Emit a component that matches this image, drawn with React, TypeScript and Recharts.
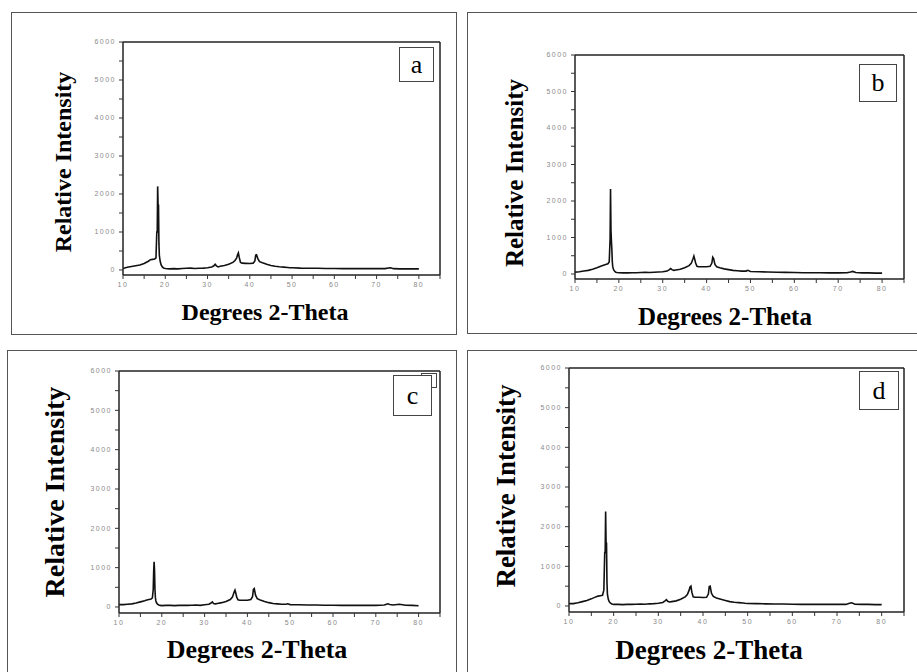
import React from 'react';
import { LineChart, Line, XAxis, YAxis } from 'recharts';

// 2-theta positions shared by all four patterns (finer around the peaks)
const TWO_THETA = [
  10, 11, 12, 13, 14, 15, 16, 16.5, 17, 17.5, 17.8, 18.0, 18.1, 18.2, 18.3, 18.4, 18.5, 18.6, 18.8, 19.0,
  19.3, 19.6, 20, 21, 22, 23, 24, 25, 26, 27, 28, 29, 30, 31, 31.5, 31.8, 32.1, 32.5, 33, 34,
  35, 36, 36.5, 36.9, 37.1, 37.3, 37.5, 37.8, 38.2, 39, 40, 40.8, 41.2, 41.4, 41.6, 41.9, 42.3, 43, 44, 45,
  46, 47, 48, 49, 49.4, 50, 52, 54, 56, 58, 60, 62, 64, 66, 68, 70, 72, 72.8, 73.3, 74,
  75.5, 77, 78.5, 80,
];

const INTENSITY_A = [
  40, 70, 90, 110, 130, 170, 230, 270, 280, 290, 320, 1000, 1000, 2200, 1700, 1700, 700, 380, 230, 140,
  80, 50, 40, 30, 35, 30, 40, 45, 50, 40, 45, 50, 60, 80, 110, 150, 110, 80, 100, 120,
  150, 200, 250, 320, 400, 450, 330, 200, 180, 175, 170, 180, 240, 390, 400, 300, 220, 190, 150, 120,
  100, 85, 75, 65, 60, 60, 50, 45, 45, 40, 40, 35, 35, 35, 35, 35, 35, 50, 60, 35,
  30, 30, 30, 30,
];

const INTENSITY_B = [
  50, 60, 80, 100, 130, 170, 220, 240, 260, 280, 330, 950, 2330, 1200, 900, 680, 350, 200, 120, 80,
  50, 40, 35, 30, 30, 35, 35, 40, 45, 40, 50, 55, 60, 80, 120, 150, 120, 100, 110, 130,
  170, 230, 290, 420, 490, 400, 300, 210, 200, 200, 200, 210, 300, 460, 420, 260, 200, 170, 140, 120,
  100, 90, 80, 80, 100, 70, 60, 55, 50, 45, 40, 35, 35, 35, 30, 30, 35, 55, 70, 40,
  30, 30, 25, 25,
];

const INTENSITY_C = [
  60, 60, 70, 80, 100, 130, 160, 180, 190, 200, 230, 450, 900, 1150, 940, 450, 250, 160, 100, 70,
  50, 40, 35, 40, 40, 35, 40, 45, 40, 45, 50, 40, 55, 70, 100, 130, 90, 80, 90, 110,
  140, 190, 250, 380, 430, 350, 250, 180, 170, 170, 170, 190, 260, 450, 470, 300, 210, 180, 140, 110,
  90, 80, 70, 70, 80, 60, 55, 50, 50, 45, 45, 40, 40, 40, 40, 40, 50, 80, 65, 50,
  70, 45, 40, 30,
];

const INTENSITY_D = [
  60, 60, 80, 110, 140, 180, 230, 250, 260, 270, 400, 1350, 1350, 2380, 1580, 1580, 600, 300, 170, 110,
  70, 50, 40, 40, 35, 40, 40, 45, 50, 45, 55, 60, 70, 90, 130, 160, 120, 100, 110, 130,
  170, 230, 290, 400, 480, 500, 350, 230, 220, 220, 215, 220, 300, 490, 500, 320, 240, 200, 170, 140,
  110, 95, 85, 75, 70, 65, 60, 55, 50, 50, 45, 40, 40, 40, 40, 40, 40, 70, 80, 45,
  40, 40, 35, 35,
];

const X_TICKS = [10, 15, 20, 25, 30, 35, 40, 45, 50, 55, 60, 65, 70, 75, 80, 85];
const Y_TICKS = [0, 500, 1000, 1500, 2000, 2500, 3000, 3500, 4000, 4500, 5000, 5500, 6000];

const Y_LABEL = 'Relative Intensity';
const X_LABEL = 'Degrees 2-Theta';
const SERIF = '"Liberation Serif", "Times New Roman", serif';
const TICK_STYLE = { fill: '#8a8a8a', fontSize: 7, fontFamily: '"Liberation Sans", Arial, sans-serif', letterSpacing: 1.5 };
const AXIS_LINE = { stroke: '#222', strokeWidth: 1.5 };
const TICK_LINE = { stroke: '#333' };

const PANELS = [
  {
    tag: 'a', values: INTENSITY_A, yMin: -132,
    frame: { l: 11, t: 12, w: 446, h: 323 },
    plot: { l: 123, t: 42, r: 439, b: 275 },
    box: { l: 399, t: 47, w: 35, h: 35 },
    yl: { x: 63, y: 162, fs: 24 }, xl: { x: 265, y: 312, fs: 24 },
  },
  {
    tag: 'b', values: INTENSITY_B, yMin: -137,
    frame: { l: 467, t: 12, w: 470, h: 322 },
    plot: { l: 575, t: 55, r: 903, b: 279 },
    box: { l: 859, t: 64, w: 38, h: 38 },
    yl: { x: 514, y: 173, fs: 25 }, xl: { x: 725, y: 316, fs: 25 },
  },
  {
    tag: 'c', values: INTENSITY_C, yMin: -153,
    frame: { l: 7, t: 350, w: 450, h: 340 },
    plot: { l: 119, t: 371, r: 439, b: 613 },
    box: { l: 393, t: 375, w: 39, h: 41 },
    extraBox: { l: 421, t: 373, w: 16, h: 15 },
    yl: { x: 55, y: 492, fs: 28 }, xl: { x: 257, y: 650, fs: 26 },
  },
  {
    tag: 'd', values: INTENSITY_D, yMin: -151,
    frame: { l: 467, t: 350, w: 470, h: 340 },
    plot: { l: 569, t: 368, r: 903, b: 612 },
    box: { l: 859, t: 371, w: 40, h: 39 },
    yl: { x: 506, y: 486, fs: 27 }, xl: { x: 709, y: 650, fs: 27 },
  },
];

const fmtX = (v: number) => (v % 10 === 0 && v <= 80 ? String(v) : '');
const fmtY = (v: number) => (v % 1000 === 0 ? String(v) : '');

function Panel({ p }: { p: any }) {
  const data = TWO_THETA.map((x, i) => ({ x, y: p.values[i] }));
  const padL = 40, padT = 8, padR = 8, padB = 20;
  const plotW = p.plot.r - p.plot.l;
  const plotH = p.plot.b - p.plot.t;
  const xDomain: [number, number] = [10, 85];
  const yDomain: [number, number] = [p.yMin, 6000];

  return (
    <>
      <div style={{
        position: 'absolute', left: p.frame.l, top: p.frame.t, width: p.frame.w, height: p.frame.h,
        border: '1px solid #555', boxSizing: 'border-box',
      }} />
      <div style={{ position: 'absolute', left: p.plot.l - padL, top: p.plot.t - padT }}>
        <LineChart
          width={plotW + padL + padR}
          height={plotH + padT + padB}
          data={data}
          margin={{ top: padT - 1, right: padR - 1, left: 0, bottom: 0 }}
        >
          <XAxis
            dataKey="x" type="number" domain={xDomain} allowDataOverflow ticks={X_TICKS} interval={0}
            height={padB} tickSize={4} tickMargin={3} tickFormatter={fmtX}
            tick={TICK_STYLE} axisLine={AXIS_LINE} tickLine={TICK_LINE}
          />
          <XAxis
            xAxisId="top" orientation="top" type="number" domain={xDomain} allowDataOverflow ticks={X_TICKS}
            interval={0} height={1} tickSize={3} tick={false} axisLine={AXIS_LINE} tickLine={TICK_LINE}
          />
          <YAxis
            type="number" domain={yDomain} allowDataOverflow ticks={Y_TICKS} interval={0}
            width={padL} tickSize={4} tickMargin={3} tickFormatter={fmtY}
            tick={TICK_STYLE} axisLine={AXIS_LINE} tickLine={TICK_LINE}
          />
          <YAxis
            yAxisId="right" orientation="right" mirror type="number" domain={yDomain} allowDataOverflow
            ticks={Y_TICKS} interval={0} width={1} tickSize={3} tick={false} axisLine={AXIS_LINE} tickLine={TICK_LINE}
          />
          <Line
            type="linear" dataKey="y" stroke="#111" strokeWidth={1.6} dot={false}
            isAnimationActive={false}
          />
        </LineChart>
      </div>
      {p.extraBox && (
        <div style={{
          position: 'absolute', left: p.extraBox.l, top: p.extraBox.t, width: p.extraBox.w, height: p.extraBox.h,
          border: '1px solid #444', boxSizing: 'border-box', background: '#fff',
        }} />
      )}
      <div style={{
        position: 'absolute', left: p.box.l, top: p.box.t, width: p.box.w, height: p.box.h,
        border: '1px solid #444', boxSizing: 'border-box', background: '#fff',
        display: 'flex', alignItems: 'center', justifyContent: 'center',
        fontFamily: SERIF, fontSize: 26, lineHeight: 1, color: '#000',
      }}>{p.tag}</div>
      <div style={{
        position: 'absolute', left: p.yl.x, top: p.yl.y, transform: 'translate(-50%, -50%) rotate(-90deg)',
        fontFamily: SERIF, fontWeight: 700, fontSize: p.yl.fs, lineHeight: 1, whiteSpace: 'nowrap', color: '#000',
      }}>{Y_LABEL}</div>
      <div style={{
        position: 'absolute', left: p.xl.x, top: p.xl.y, transform: 'translate(-50%, -50%)',
        fontFamily: SERIF, fontWeight: 700, fontSize: p.xl.fs, lineHeight: 1, whiteSpace: 'nowrap', color: '#000',
      }}>{X_LABEL}</div>
    </>
  );
}

export default function App() {
  return (
    <div style={{
      position: 'absolute', left: 0, top: 0, width: 917, height: 672, overflow: 'hidden', background: '#fff',
    }}>
      {PANELS.map(p => <Panel key={p.tag} p={p} />)}
    </div>
  );
}
